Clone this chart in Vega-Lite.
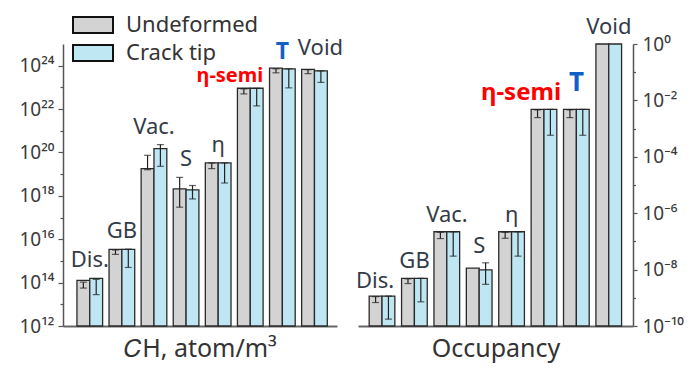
{
  "$schema": "https://vega.github.io/schema/vega-lite/v6.json",
  "padding": {"left": 13, "top": 14, "right": 0, "bottom": 12},
  "bounds": "flush",
  "spacing": 21,
  "config": {
    "font": "Noto Sans",
    "view": {"stroke": null},
    "axis": {"grid": false, "labelFont": "Noto Sans", "titleFont": "Noto Sans", "labelColor": "#3a3a3a", "titleColor": "#333333", "domainColor": "#555555", "tickColor": "#555555"}
  },
  "datasets": {
    "ch": [
      {"cat": "Dis.", "series": "Undeformed", "v": 1.26e14, "lo": 5.6e13, "hi": 1.05e14},
      {"cat": "Dis.", "series": "Crack tip", "v": 1.58e14, "lo": 2.8e13, "hi": 1.41e14},
      {"cat": "GB", "series": "Undeformed", "v": 3.4e15, "lo": 2.0e15, "hi": 3.2e15},
      {"cat": "GB", "series": "Crack tip", "v": 3.4e15, "lo": 5.0e14, "hi": 3.5e15},
      {"cat": "Vac.", "series": "Undeformed", "v": 1.8e19, "lo": 1.6e19, "hi": 7.4e19},
      {"cat": "Vac.", "series": "Crack tip", "v": 1.5e20, "lo": 2.3e19, "hi": 2.3e20},
      {"cat": "S", "series": "Undeformed", "v": 2.1e18, "lo": 3.0e17, "hi": 7.1e18},
      {"cat": "S", "series": "Crack tip", "v": 1.9e18, "lo": 7.2e17, "hi": 3.0e18},
      {"cat": "η", "series": "Undeformed", "v": 3.3e19, "lo": 1.8e19, "hi": 3.3e19},
      {"cat": "η", "series": "Crack tip", "v": 3.3e19, "lo": 3.9e18, "hi": 3.3e19},
      {"cat": "η-semi", "series": "Undeformed", "v": 9.1e22, "lo": 5.0e22, "hi": 8.5e22},
      {"cat": "η-semi", "series": "Crack tip", "v": 9.1e22, "lo": 1.4e22, "hi": 9.1e22},
      {"cat": "T", "series": "Undeformed", "v": 7.8e23, "lo": 4.7e23, "hi": 7.2e23},
      {"cat": "T", "series": "Crack tip", "v": 7.2e23, "lo": 9.5e22, "hi": 7.2e23},
      {"cat": "Void", "series": "Undeformed", "v": 6.8e23, "lo": 4.3e23, "hi": 6.5e23},
      {"cat": "Void", "series": "Crack tip", "v": 5.8e23, "lo": 1.7e23, "hi": 5.8e23}
    ],
    "occ": [
      {"cat": "Dis.", "series": "Undeformed", "v": 1.15e-9, "lo": 6.8e-10, "hi": 1.1e-9},
      {"cat": "Dis.", "series": "Crack tip", "v": 1.15e-9, "lo": 1.74e-10, "hi": 1.15e-9},
      {"cat": "GB", "series": "Undeformed", "v": 4.9e-9, "lo": 3.2e-9, "hi": 4.7e-9},
      {"cat": "GB", "series": "Crack tip", "v": 4.9e-9, "lo": 7.2e-10, "hi": 4.9e-9},
      {"cat": "Vac.", "series": "Undeformed", "v": 2.2e-7, "lo": 1.26e-7, "hi": 2.1e-7},
      {"cat": "Vac.", "series": "Crack tip", "v": 2.2e-7, "lo": 3.0e-8, "hi": 2.2e-7},
      {"cat": "S", "series": "Undeformed", "v": 1.12e-8, "lo": null, "hi": null},
      {"cat": "S", "series": "Crack tip", "v": 9.8e-9, "lo": 3.0e-9, "hi": 1.74e-8},
      {"cat": "η", "series": "Undeformed", "v": 2.2e-7, "lo": 1.29e-7, "hi": 2.1e-7},
      {"cat": "η", "series": "Crack tip", "v": 2.2e-7, "lo": 3.0e-8, "hi": 2.2e-7},
      {"cat": "η-semi", "series": "Undeformed", "v": 4.8e-3, "lo": 2.45e-3, "hi": 4.6e-3},
      {"cat": "η-semi", "series": "Crack tip", "v": 4.8e-3, "lo": 5.8e-4, "hi": 4.8e-3},
      {"cat": "T", "series": "Undeformed", "v": 4.8e-3, "lo": 2.45e-3, "hi": 4.6e-3},
      {"cat": "T", "series": "Crack tip", "v": 4.8e-3, "lo": 5.8e-4, "hi": 4.8e-3},
      {"cat": "Void", "series": "Undeformed", "v": 1, "lo": null, "hi": null},
      {"cat": "Void", "series": "Crack tip", "v": 1, "lo": null, "hi": null}
    ]
  },
  "resolve": {"scale": {"color": "shared"}, "legend": {"color": "shared"}},
  "hconcat": [
    {
      "width": 274,
      "height": 282,
      "data": {"name": "ch"},
      "layer": [
        {
          "mark": {"type": "bar", "stroke": "#2a2a2a", "strokeWidth": 1.3},
          "encoding": {
            "x": {"field": "cat", "type": "nominal", "scale": {"domain": ["Dis.", "GB", "Vac.", "S", "η", "η-semi", "T", "Void"], "paddingInner": 0.2, "paddingOuter": 0.368, "align": 0.59},
              "axis": {"labels": false, "ticks": false, "title": "𝐶H, atom/m³", "domainColor": "#666666", "domainWidth": 2, "titleFontSize": 25, "titleFontWeight": "normal", "titlePadding": 10}},
            "xOffset": {"field": "series", "type": "nominal", "scale": {"domain": ["Undeformed", "Crack tip"], "paddingInner": 0, "paddingOuter": 0}},
            "y": {"field": "v", "type": "quantitative", "stack": null, "scale": {"type": "log", "domain": [1e12, 1e25], "nice": false},
              "axis": {"orient": "left", "values": [1e12, 1e14, 1e16, 1e18, 1e20, 1e22, 1e24], "labelExpr": "'10' + replace(replace(replace(replace(replace(replace(replace(replace(replace(replace(replace('' + round(log(datum.value)/LN10), regexp('-','g'), '⁻'), regexp('0','g'), '⁰'), regexp('1','g'), '¹'), regexp('2','g'), '²'), regexp('3','g'), '³'), regexp('4','g'), '⁴'), regexp('5','g'), '⁵'), regexp('6','g'), '⁶'), regexp('7','g'), '⁷'), regexp('8','g'), '⁸'), regexp('9','g'), '⁹')", "labelFontSize": 19, "tickSize": 5, "tickWidth": 1.2, "domainWidth": 1.5, "labelPadding": 4, "title": null, "minExtent": 50, "maxExtent": 50}},
            "color": {"field": "series", "type": "nominal", "scale": {"domain": ["Undeformed", "Crack tip"], "range": ["#d3d3d3", "#bfe7f3"]},
              "legend": {"orient": "none", "legendX": 19, "legendY": -30, "title": null, "symbolType": "M-2.5,-1H2.5V1H-2.5Z", "symbolSize": 256, "symbolStrokeColor": "#111111", "symbolStrokeWidth": 2, "labelFontSize": 22, "labelColor": "#333333", "labelOffset": 22, "rowPadding": 4, "labelFont": "Noto Sans"}}
          }
        },
        {
          "mark": {"type": "rule", "color": "#222222", "strokeWidth": 1.2},
          "encoding": {
            "x": {"field": "cat", "type": "nominal", "scale": {"domain": ["Dis.", "GB", "Vac.", "S", "η", "η-semi", "T", "Void"], "paddingInner": 0.2, "paddingOuter": 0.368, "align": 0.59}},
            "xOffset": {"field": "series", "type": "nominal", "scale": {"domain": ["Undeformed", "Crack tip"], "paddingInner": 0, "paddingOuter": 0}},
            "y": {"field": "lo", "type": "quantitative", "scale": {"type": "log", "domain": [1e12, 1e25], "nice": false},
              "axis": {"orient": "left", "values": [1e13, 1e15, 1e17, 1e19, 1e21, 1e23], "labels": false, "domain": false, "tickSize": 3, "tickWidth": 1.2, "title": null}},
            "y2": {"field": "hi"}
          }
        },
        {
          "mark": {"type": "tick", "color": "#222222", "size": 7, "thickness": 1.2},
          "encoding": {
            "x": {"field": "cat", "type": "nominal", "scale": {"domain": ["Dis.", "GB", "Vac.", "S", "η", "η-semi", "T", "Void"], "paddingInner": 0.2, "paddingOuter": 0.368, "align": 0.59}},
            "xOffset": {"field": "series", "type": "nominal", "scale": {"domain": ["Undeformed", "Crack tip"], "paddingInner": 0, "paddingOuter": 0}},
            "y": {"field": "lo", "type": "quantitative", "scale": {"type": "log", "domain": [1e12, 1e25], "nice": false}, "axis": null}
          }
        },
        {
          "mark": {"type": "tick", "color": "#222222", "size": 7, "thickness": 1.2},
          "encoding": {
            "x": {"field": "cat", "type": "nominal", "scale": {"domain": ["Dis.", "GB", "Vac.", "S", "η", "η-semi", "T", "Void"], "paddingInner": 0.2, "paddingOuter": 0.368, "align": 0.59}},
            "xOffset": {"field": "series", "type": "nominal", "scale": {"domain": ["Undeformed", "Crack tip"], "paddingInner": 0, "paddingOuter": 0}},
            "y": {"field": "hi", "type": "quantitative", "scale": {"type": "log", "domain": [1e12, 1e25], "nice": false}, "axis": null}
          }
        },
        {
          "transform": [{"fold": ["v", "hi"], "as": ["k", "val"]}, {"aggregate": [{"op": "max", "field": "val", "as": "top"}], "groupby": ["cat"]}, {"filter": "datum.cat !== 'η-semi' && datum.cat !== 'T' && datum.cat !== 'Void'"}],
          "mark": {"type": "text", "baseline": "alphabetic", "dy": -11, "fontSize": 22, "color": "#333c48"},
          "encoding": {
            "x": {"field": "cat", "type": "nominal", "scale": {"domain": ["Dis.", "GB", "Vac.", "S", "η", "η-semi", "T", "Void"], "paddingInner": 0.2, "paddingOuter": 0.368, "align": 0.59}},
            "y": {"field": "top", "type": "quantitative", "scale": {"type": "log", "domain": [1e12, 1e25], "nice": false}, "axis": null},
            "text": {"field": "cat"}
          }
        },
        {
          "transform": [{"fold": ["v", "hi"], "as": ["k", "val"]}, {"aggregate": [{"op": "max", "field": "val", "as": "top"}], "groupby": ["cat"]}, {"filter": "datum.cat === 'Void'"}],
          "mark": {"type": "text", "baseline": "alphabetic", "dx": 6, "dy": -14, "fontSize": 22, "color": "#333c48"},
          "encoding": {
            "x": {"field": "cat", "type": "nominal", "scale": {"domain": ["Dis.", "GB", "Vac.", "S", "η", "η-semi", "T", "Void"], "paddingInner": 0.2, "paddingOuter": 0.368, "align": 0.59}},
            "y": {"field": "top", "type": "quantitative", "scale": {"type": "log", "domain": [1e12, 1e25], "nice": false}, "axis": null},
            "text": {"field": "cat"}
          }
        },
        {
          "transform": [{"fold": ["v", "hi"], "as": ["k", "val"]}, {"aggregate": [{"op": "max", "field": "val", "as": "top"}], "groupby": ["cat"]}, {"filter": "datum.cat === 'η-semi'"}],
          "mark": {"type": "text", "baseline": "alphabetic", "align": "right", "dx": 13, "dy": -6, "fontSize": 20, "fontWeight": "bold", "color": "#ff0000"},
          "encoding": {
            "x": {"field": "cat", "type": "nominal", "scale": {"domain": ["Dis.", "GB", "Vac.", "S", "η", "η-semi", "T", "Void"], "paddingInner": 0.2, "paddingOuter": 0.368, "align": 0.59}},
            "y": {"field": "top", "type": "quantitative", "scale": {"type": "log", "domain": [1e12, 1e25], "nice": false}, "axis": null},
            "text": {"field": "cat"}
          }
        },
        {
          "transform": [{"fold": ["v", "hi"], "as": ["k", "val"]}, {"aggregate": [{"op": "max", "field": "val", "as": "top"}], "groupby": ["cat"]}, {"filter": "datum.cat === 'T'"}],
          "mark": {"type": "text", "baseline": "alphabetic", "dy": -9, "fontSize": 23, "fontWeight": "bold", "color": "#1060c8"},
          "encoding": {
            "x": {"field": "cat", "type": "nominal", "scale": {"domain": ["Dis.", "GB", "Vac.", "S", "η", "η-semi", "T", "Void"], "paddingInner": 0.2, "paddingOuter": 0.368, "align": 0.59}},
            "y": {"field": "top", "type": "quantitative", "scale": {"type": "log", "domain": [1e12, 1e25], "nice": false}, "axis": null},
            "text": {"field": "cat"}
          }
        }
      ],
      "resolve": {"axis": {"y": "independent"}}
    },
    {
      "width": 275,
      "height": 282,
      "data": {"name": "occ"},
      "layer": [
        {
          "mark": {"type": "bar", "stroke": "#2a2a2a", "strokeWidth": 1.3},
          "encoding": {
            "x": {"field": "cat", "type": "nominal", "scale": {"domain": ["Dis.", "GB", "Vac.", "S", "η", "η-semi", "T", "Void"], "paddingInner": 0.2, "paddingOuter": 0.345},
              "axis": {"labels": false, "ticks": false, "title": "Occupancy", "domainColor": "#666666", "domainWidth": 2, "titleFontSize": 25, "titleFontWeight": "normal", "titlePadding": 10}},
            "xOffset": {"field": "series", "type": "nominal", "scale": {"domain": ["Undeformed", "Crack tip"], "paddingInner": 0, "paddingOuter": 0}},
            "y": {"field": "v", "type": "quantitative", "stack": null, "scale": {"type": "log", "domain": [1e-10, 1], "nice": false},
              "axis": {"orient": "right", "values": [1e-10, 1e-8, 1e-6, 1e-4, 1e-2, 1], "labelExpr": "'10' + replace(replace(replace(replace(replace(replace(replace(replace(replace(replace(replace('' + round(log(datum.value)/LN10), regexp('-','g'), '⁻'), regexp('0','g'), '⁰'), regexp('1','g'), '¹'), regexp('2','g'), '²'), regexp('3','g'), '³'), regexp('4','g'), '⁴'), regexp('5','g'), '⁵'), regexp('6','g'), '⁶'), regexp('7','g'), '⁷'), regexp('8','g'), '⁸'), regexp('9','g'), '⁹')", "labelFontSize": 19, "tickSize": 4, "tickWidth": 1.2, "domainWidth": 1.5, "labelPadding": 5, "title": null}},
            "color": {"field": "series", "type": "nominal", "scale": {"domain": ["Undeformed", "Crack tip"], "range": ["#d3d3d3", "#bfe7f3"]}, "legend": null}
          }
        },
        {
          "mark": {"type": "rule", "color": "#222222", "strokeWidth": 1.2},
          "encoding": {
            "x": {"field": "cat", "type": "nominal", "scale": {"domain": ["Dis.", "GB", "Vac.", "S", "η", "η-semi", "T", "Void"], "paddingInner": 0.2, "paddingOuter": 0.345}},
            "xOffset": {"field": "series", "type": "nominal", "scale": {"domain": ["Undeformed", "Crack tip"], "paddingInner": 0, "paddingOuter": 0}},
            "y": {"field": "lo", "type": "quantitative", "scale": {"type": "log", "domain": [1e-10, 1], "nice": false},
              "axis": {"orient": "right", "values": [1e-9, 1e-7, 1e-5, 1e-3, 1e-1], "labels": false, "domain": false, "tickSize": 2.5, "tickWidth": 1.2, "title": null}},
            "y2": {"field": "hi"}
          }
        },
        {
          "mark": {"type": "tick", "color": "#222222", "size": 7, "thickness": 1.2},
          "encoding": {
            "x": {"field": "cat", "type": "nominal", "scale": {"domain": ["Dis.", "GB", "Vac.", "S", "η", "η-semi", "T", "Void"], "paddingInner": 0.2, "paddingOuter": 0.345}},
            "xOffset": {"field": "series", "type": "nominal", "scale": {"domain": ["Undeformed", "Crack tip"], "paddingInner": 0, "paddingOuter": 0}},
            "y": {"field": "lo", "type": "quantitative", "scale": {"type": "log", "domain": [1e-10, 1], "nice": false}, "axis": null}
          }
        },
        {
          "mark": {"type": "tick", "color": "#222222", "size": 7, "thickness": 1.2},
          "encoding": {
            "x": {"field": "cat", "type": "nominal", "scale": {"domain": ["Dis.", "GB", "Vac.", "S", "η", "η-semi", "T", "Void"], "paddingInner": 0.2, "paddingOuter": 0.345}},
            "xOffset": {"field": "series", "type": "nominal", "scale": {"domain": ["Undeformed", "Crack tip"], "paddingInner": 0, "paddingOuter": 0}},
            "y": {"field": "hi", "type": "quantitative", "scale": {"type": "log", "domain": [1e-10, 1], "nice": false}, "axis": null}
          }
        },
        {
          "transform": [{"fold": ["v", "hi"], "as": ["k", "val"]}, {"aggregate": [{"op": "max", "field": "val", "as": "top"}], "groupby": ["cat"]}, {"filter": "datum.cat !== 'η-semi' && datum.cat !== 'T' && datum.cat !== 'Dis.'"}],
          "mark": {"type": "text", "baseline": "alphabetic", "dy": -10, "fontSize": 22, "color": "#333c48"},
          "encoding": {
            "x": {"field": "cat", "type": "nominal", "scale": {"domain": ["Dis.", "GB", "Vac.", "S", "η", "η-semi", "T", "Void"], "paddingInner": 0.2, "paddingOuter": 0.345}},
            "y": {"field": "top", "type": "quantitative", "scale": {"type": "log", "domain": [1e-10, 1], "nice": false}, "axis": null},
            "text": {"field": "cat"}
          }
        },
        {
          "transform": [{"fold": ["v", "hi"], "as": ["k", "val"]}, {"aggregate": [{"op": "max", "field": "val", "as": "top"}], "groupby": ["cat"]}, {"filter": "datum.cat === 'Dis.'"}],
          "mark": {"type": "text", "baseline": "alphabetic", "dx": -7, "dy": -8, "fontSize": 22, "color": "#333c48"},
          "encoding": {
            "x": {"field": "cat", "type": "nominal", "scale": {"domain": ["Dis.", "GB", "Vac.", "S", "η", "η-semi", "T", "Void"], "paddingInner": 0.2, "paddingOuter": 0.345}},
            "y": {"field": "top", "type": "quantitative", "scale": {"type": "log", "domain": [1e-10, 1], "nice": false}, "axis": null},
            "text": {"field": "cat"}
          }
        },
        {
          "transform": [{"fold": ["v", "hi"], "as": ["k", "val"]}, {"aggregate": [{"op": "max", "field": "val", "as": "top"}], "groupby": ["cat"]}, {"filter": "datum.cat === 'η-semi'"}],
          "mark": {"type": "text", "baseline": "alphabetic", "align": "right", "dx": 17, "dy": -9, "fontSize": 24, "fontWeight": "bold", "color": "#ff0000"},
          "encoding": {
            "x": {"field": "cat", "type": "nominal", "scale": {"domain": ["Dis.", "GB", "Vac.", "S", "η", "η-semi", "T", "Void"], "paddingInner": 0.2, "paddingOuter": 0.345}},
            "y": {"field": "top", "type": "quantitative", "scale": {"type": "log", "domain": [1e-10, 1], "nice": false}, "axis": null},
            "text": {"field": "cat"}
          }
        },
        {
          "transform": [{"fold": ["v", "hi"], "as": ["k", "val"]}, {"aggregate": [{"op": "max", "field": "val", "as": "top"}], "groupby": ["cat"]}, {"filter": "datum.cat === 'T'"}],
          "mark": {"type": "text", "baseline": "alphabetic", "dy": -18, "fontSize": 26, "fontWeight": "bold", "color": "#1060c8"},
          "encoding": {
            "x": {"field": "cat", "type": "nominal", "scale": {"domain": ["Dis.", "GB", "Vac.", "S", "η", "η-semi", "T", "Void"], "paddingInner": 0.2, "paddingOuter": 0.345}},
            "y": {"field": "top", "type": "quantitative", "scale": {"type": "log", "domain": [1e-10, 1], "nice": false}, "axis": null},
            "text": {"field": "cat"}
          }
        }
      ],
      "resolve": {"axis": {"y": "independent"}}
    }
  ]
}
